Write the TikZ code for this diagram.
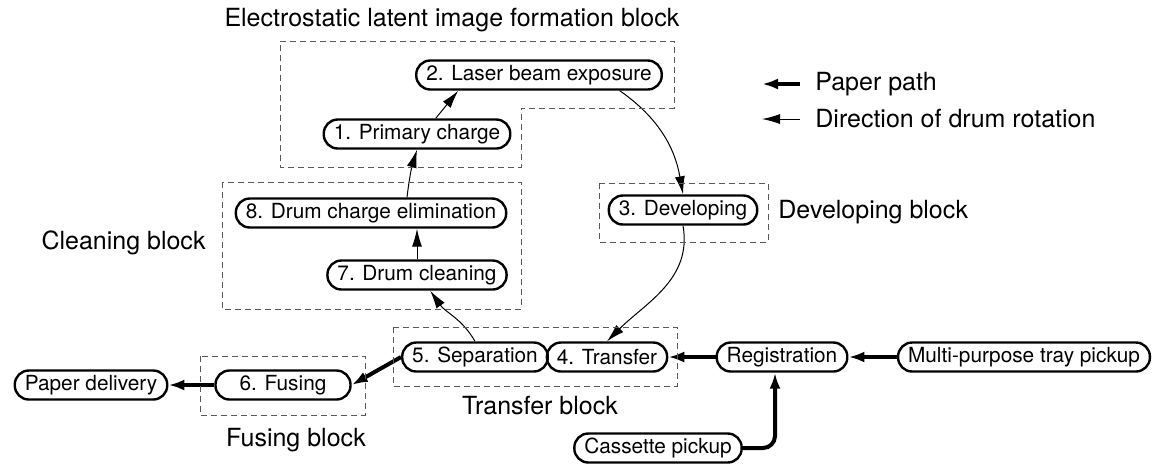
\documentclass[tikz,border=0pt]{standalone}
\usepackage{fontspec}
\setmainfont{TeX Gyre Heros}
\usetikzlibrary{arrows.meta}
\usetikzlibrary{calc}

\newcommand{\stagefont}{\fontsize{10.4}{12}\selectfont}
\newcommand{\blockfont}{\fontsize{12.5}{15}\selectfont}

\tikzset{
	stage/.style = {rectangle, draw, line width = 1.2pt, rounded corners = 7pt, minimum height = 14.5pt, inner xsep = 5pt, inner ysep = 0pt, font = \stagefont},
	blocklabel/.style = {inner sep = 0pt, font = \blockfont},
	blockline/.style = {draw = black!65, line width = 0.5pt, dash pattern = on 3pt off 2pt}
}

\begin{document}
\begin{tikzpicture}[x = 0.5pt, y = -0.5pt]
		\useasboundingbox (0, 0) rectangle (1155, 463);

		\begin{scope}[every node/.style = {stage}]
		\node (s2) at (539, 75) {2. Laser beam exposure};
		\node (s1) at (417, 134) {1. Primary charge};
		\node (s8) at (371, 213) {8. Drum charge elimination};
		\node (s7) at (417, 275) {7. Drum cleaning};
		\node (s3) at (683, 210) {3. Developing};
		\node (s5) at (475, 357) {5. Separation};
		\node (s4) at (607, 357) {4. Transfer};
		\node (s6) [minimum width = 67.5pt] at (283, 385) {6. Fusing};
		\node (del) at (91, 385) {Paper delivery};
		\node (reg) at (782, 357) {Registration};
		\node (mpt) at (1024, 357) {Multi-purpose tray pickup};
		\node (cas) at (658, 448) {Cassette pickup};
		\end{scope}

		\begin{scope}[every node/.style = {blocklabel}]
		\node (elt) at (452, 20) {Electrostatic latent image formation block};
		\node (clt) [anchor = east] at (206, 243) {Cleaning block};
		\node (dlt) [anchor = west] at (778, 212) {Developing block};
		\node (tlt) at (540, 406) {Transfer block};
		\node (flt) at (296, 440) {Fusing block};
		\node (pp) [anchor = west] at (815, 84) {Paper path};
		\node (dr) [anchor = west] at (815, 119) {Direction of drum rotation};
		\end{scope}

		\coordinate (ppend) at (762, 84);
		\coordinate (drend) at (762, 119);

		\begin{scope}[>={Latex[length = 9pt, width = 5pt]},
		every edge/.style = {draw = black, line width = 0.5pt}]
		\path [->] (s1.40) edge (s2.191);
		\path [->] ($(s8.north) + (36, 0)$) edge [bend left = 5] (s1.south);
		\path [->] (s7.north) edge (s7.north |- s8.south);
		\path [->] (s5.north) edge [out = 120, in = -55] (s7.-50);
		\path [->] (s2.-11) edge [out = -35, in = 100] (s3.north);
		\path [->] (s3.south) edge [out = -80, in = 45] (s4.north);
		\path [->] ($(dr.west) + (-15, 0)$) edge (drend);
		\end{scope}

		\begin{scope}[>={Latex[length = 8pt, width = 5.5pt]},
		every edge/.style = {draw = black, line width = 2pt}]
		\path [->] (mpt) edge (reg);
		\path [->] (reg) edge (s4);
		\path [->] (s5.west) edge (s6.east);
		\path [->] (s6) edge (del);
		\path [->] ($(pp.west) + (-15, 0)$) edge (ppend);
		\end{scope}

		\draw [->, >={Latex[length = 8pt, width = 5.5pt]}, line width = 2pt, rounded corners = 6pt]
		(cas.east) -| ($(reg.south) + (-7, 0)$);

		\draw [blockline]
		(280, 41) --
		(674, 41) --
		(674, 108) --
		(521, 108) --
		(521, 167) --
		(280, 167)
		--cycle;

		\draw [blockline] (222, 182) rectangle (521, 309);
		\draw [blockline] (599, 183) rectangle (768, 242);
		\draw [blockline] (393, 327) rectangle (677, 386);
		\draw [blockline] (200, 356) rectangle (365, 415);

		\end{tikzpicture}
\end{document}
